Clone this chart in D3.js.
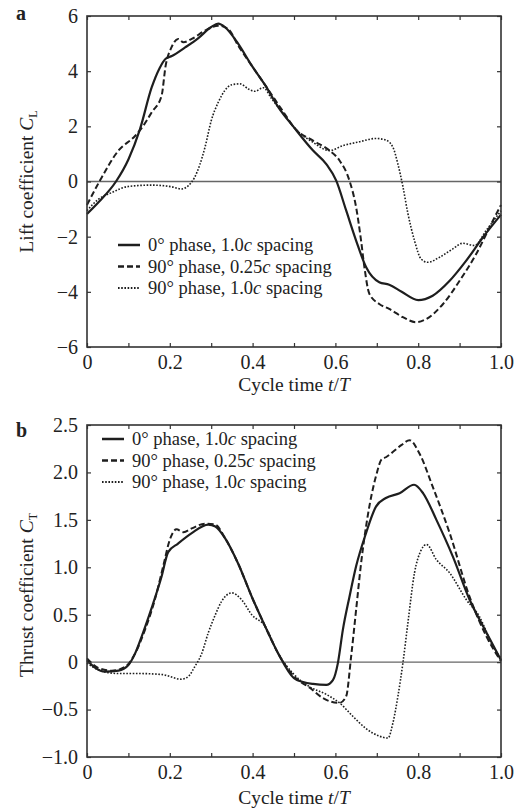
<!DOCTYPE html>
<html>
<head>
<meta charset="utf-8">
<script src="https://cdn.jsdelivr.net/npm/d3@7"></script>
<style>
  body { margin: 0; background: #fff; }
  text { font-family: "Liberation Serif", "Times New Roman", serif; fill: #222; }
</style>
</head>
<body>
<svg width="528" height="812"></svg>
<script>
// lift coefficient, [t/T, C_L]
var liftPhase0 = [[0,-1.18],[0.03,-0.72],[0.07,0],[0.1,0.8],[0.128,1.9],[0.156,3.4],[0.175,4.1],[0.19,4.45],[0.205,4.55],[0.237,4.86],[0.269,5.2],[0.3,5.6],[0.317,5.72],[0.333,5.6],[0.365,5.0],[0.398,4.2],[0.43,3.5],[0.462,2.7],[0.5,1.96],[0.546,1.12],[0.578,0.63],[0.602,0.03],[0.626,-1.05],[0.65,-2.14],[0.674,-3.1],[0.706,-3.65],[0.73,-3.74],[0.76,-4.0],[0.8,-4.3],[0.835,-4.14],[0.876,-3.6],[0.916,-2.87],[0.956,-2.03],[1.0,-1.2]];
var liftPhase90Close = [[0,-0.85],[0.03,0],[0.076,1.12],[0.116,1.65],[0.135,2.0],[0.156,2.5],[0.18,3.1],[0.19,4.2],[0.204,4.86],[0.22,5.17],[0.233,5.05],[0.253,5.17],[0.285,5.47],[0.317,5.65],[0.341,5.53],[0.365,4.93],[0.398,4.2],[0.43,3.5],[0.478,2.44],[0.5,1.96],[0.546,1.48],[0.586,1.12],[0.61,0.76],[0.634,0.03],[0.65,-0.93],[0.662,-2.14],[0.67,-3.1],[0.682,-4.07],[0.706,-4.44],[0.73,-4.62],[0.763,-4.92],[0.795,-5.1],[0.82,-4.98],[0.86,-4.44],[0.9,-3.6],[0.94,-2.63],[0.98,-1.43],[1.0,-0.85]];
var liftPhase90Far = [[0,-1.06],[0.027,-0.65],[0.06,-0.4],[0.1,-0.18],[0.156,-0.13],[0.204,-0.19],[0.228,-0.27],[0.245,-0.15],[0.26,0.15],[0.285,1.24],[0.3,2.2],[0.317,2.87],[0.333,3.3],[0.35,3.51],[0.37,3.54],[0.39,3.35],[0.405,3.27],[0.426,3.4],[0.446,3.0],[0.478,2.39],[0.5,1.96],[0.546,1.42],[0.586,1.12],[0.618,1.3],[0.658,1.44],[0.698,1.56],[0.722,1.5],[0.739,1.24],[0.751,0.63],[0.763,-0.18],[0.775,-1.15],[0.791,-2.14],[0.807,-2.81],[0.823,-2.93],[0.851,-2.75],[0.883,-2.45],[0.907,-2.24],[0.936,-2.32],[0.964,-1.78],[1.0,-1.06]];

// thrust coefficient, [t/T, C_T]
var thrustPhase0 = [[0,0.02],[0.02,-0.06],[0.043,-0.1],[0.076,-0.09],[0.1,-0.03],[0.116,0.09],[0.132,0.27],[0.156,0.57],[0.18,0.9],[0.196,1.16],[0.22,1.25],[0.253,1.36],[0.293,1.45],[0.31,1.43],[0.333,1.31],[0.365,1.04],[0.398,0.69],[0.43,0.38],[0.462,0.09],[0.5,-0.17],[0.522,-0.21],[0.546,-0.23],[0.578,-0.24],[0.594,-0.19],[0.606,-0.01],[0.618,0.34],[0.634,0.69],[0.65,1.01],[0.674,1.36],[0.698,1.64],[0.722,1.73],[0.755,1.78],[0.79,1.87],[0.812,1.78],[0.844,1.5],[0.884,1.11],[0.924,0.66],[0.965,0.31],[1.0,0.02]];
var thrustPhase90Close = [[0,0.04],[0.027,-0.06],[0.06,-0.09],[0.092,-0.05],[0.116,0.09],[0.14,0.34],[0.164,0.66],[0.184,1.01],[0.2,1.29],[0.216,1.4],[0.233,1.37],[0.253,1.41],[0.285,1.46],[0.31,1.45],[0.333,1.31],[0.365,1.04],[0.398,0.69],[0.43,0.38],[0.462,0.09],[0.5,-0.15],[0.538,-0.27],[0.57,-0.38],[0.61,-0.43],[0.626,-0.36],[0.638,0.06],[0.65,0.55],[0.662,1.04],[0.678,1.54],[0.698,1.96],[0.712,2.14],[0.722,2.16],[0.74,2.22],[0.76,2.29],[0.779,2.34],[0.803,2.2],[0.835,1.85],[0.876,1.36],[0.924,0.69],[0.965,0.27],[1.0,0.01]];
var thrustPhase90Far = [[0,-0.01],[0.027,-0.08],[0.076,-0.12],[0.124,-0.12],[0.18,-0.13],[0.228,-0.18],[0.245,-0.15],[0.26,-0.05],[0.277,0.09],[0.293,0.31],[0.31,0.5],[0.325,0.64],[0.35,0.73],[0.373,0.66],[0.398,0.5],[0.43,0.38],[0.462,0.09],[0.5,-0.13],[0.538,-0.26],[0.578,-0.34],[0.61,-0.43],[0.642,-0.57],[0.674,-0.7],[0.706,-0.78],[0.727,-0.8],[0.739,-0.64],[0.751,-0.36],[0.763,-0.01],[0.775,0.41],[0.791,0.94],[0.807,1.18],[0.82,1.24],[0.844,1.08],[0.876,0.94],[0.916,0.66],[0.948,0.48],[0.98,0.17],[1.0,0.04]];

var seriesNames = [["0° phase, 1.0", "c", " spacing"], ["90° phase, 0.25", "c", " spacing"], ["90° phase, 1.0", "c", " spacing"]];
var xTicks = [0, 0.1, 0.2, 0.3, 0.4, 0.5, 0.6, 0.7, 0.8, 0.9, 1.0];
var xLabels = {0: "0", 0.2: "0.2", 0.4: "0.4", 0.6: "0.6", 0.8: "0.8", 1: "1.0"};
var liftTicks = [-6, -4, -2, 0, 2, 4, 6];
var liftLabels = ["−6", "−4", "−2", "0", "2", "4", "6"];
var thrustTicks = [-1, -0.5, 0, 0.5, 1, 1.5, 2, 2.5];
var thrustLabels = ["−1.0", "−0.5", "0", "0.5", "1.0", "1.5", "2.0", "2.5"];

var svg = d3.select("svg");
var styles = [
    {w: 2.2, dash: null},
    {w: 2.0, dash: "6,3"},
    {w: 1.6, dash: "1.6,1.6"}
];

function drawPanel(opt) {
    var width = 414, height = opt.height;
    var g = svg.append("g").attr("transform", "translate(87," + opt.top + ")");
    var x = d3.scaleLinear().domain([0, 1]).range([0, width]);
    var y = d3.scaleLinear().domain(opt.domain).range([height, 0]);

    // zero line
    g.append("line")
        .attr("x1", 0).attr("x2", width)
        .attr("y1", y(0)).attr("y2", y(0))
        .attr("stroke", "#666").attr("stroke-width", 1.4);

    var line = d3.line()
        .x(function (d) { return x(d[0]); })
        .y(function (d) { return y(d[1]); })
        .curve(d3.curveMonotoneX);

    opt.series.forEach(function (s, i) {
        g.append("path")
            .datum(s)
            .attr("fill", "none")
            .attr("stroke", "#1e1e1e")
            .attr("stroke-width", styles[i].w)
            .attr("stroke-dasharray", styles[i].dash)
            .attr("d", line);
    });

    // axes, ticks point inward
    g.append("g").attr("transform", "translate(0," + height + ")")
        .call(d3.axisBottom(x).tickValues(xTicks).tickSizeInner(-4).tickSizeOuter(0).tickPadding(8)
            .tickFormat(function (d) { return xLabels[Math.round(d * 10) / 10] || ""; }));
    g.append("g")
        .call(d3.axisTop(x).tickValues(xTicks).tickSizeInner(-4).tickSizeOuter(0).tickFormat(""));
    g.append("g")
        .call(d3.axisLeft(y).tickValues(opt.ticks).tickSizeInner(-4).tickSizeOuter(0).tickPadding(9)
            .tickFormat(function (d, i) { return opt.labels[i]; }));
    g.append("g").attr("transform", "translate(" + width + ",0)")
        .call(d3.axisRight(y).tickValues(opt.ticks).tickSizeInner(-4).tickSizeOuter(0).tickFormat(""));

    g.selectAll(".domain").remove();
    g.selectAll(".tick line").attr("stroke", "#333").attr("stroke-width", 1.2);
    g.selectAll(".tick text")
        .style("font-family", '"Liberation Serif", serif')
        .style("font-size", "20px")
        .attr("fill", "#222");

    g.append("rect")
        .attr("width", width).attr("height", height)
        .attr("fill", "none").attr("stroke", "#333").attr("stroke-width", 1.6);

    // panel letter
    svg.append("text")
        .attr("x", 16).attr("y", opt.top + opt.letterDy)
        .style("font-size", "20px").style("font-weight", "bold")
        .text(opt.letter);

    // x title
    var xt = g.append("text")
        .attr("x", width / 2).attr("y", height + opt.xTitleDy)
        .attr("text-anchor", "middle")
        .style("font-size", "19.5px");
    xt.append("tspan").text("Cycle time ");
    xt.append("tspan").style("font-style", "italic").text("t");
    xt.append("tspan").text("/");
    xt.append("tspan").style("font-style", "italic").text("T");

    // y title
    var yt = g.append("text")
        .attr("transform", "translate(-54," + (height / 2 + opt.yTitleShift) + ") rotate(-90)")
        .attr("text-anchor", "middle")
        .style("font-size", "19.5px");
    yt.append("tspan").text(opt.yTitle + " ");
    yt.append("tspan").style("font-style", "italic").text("C");
    yt.append("tspan").attr("dy", 4).style("font-size", "12px").text(opt.sub);

    // legend
    var lg = svg.append("g").attr("transform", "translate(" + opt.legend[0] + "," + opt.legend[1] + ")");
    seriesNames.forEach(function (n, i) {
        var row = lg.append("g").attr("transform", "translate(0," + i * 21.5 + ")");
        row.append("line")
            .attr("x1", 0).attr("x2", 22).attr("y1", 0).attr("y2", 0)
            .attr("stroke", "#1e1e1e")
            .attr("stroke-width", styles[i].w + 0.3)
            .attr("stroke-dasharray", styles[i].dash);
        var t = row.append("text").attr("x", 30).attr("y", 6).style("font-size", "18.5px");
        t.append("tspan").text(n[0]);
        t.append("tspan").style("font-style", "italic").text(n[1]);
        t.append("tspan").text(n[2]);
    });
}

drawPanel({
    top: 16, height: 331, domain: [-6, 6],
    ticks: liftTicks, labels: liftLabels,
    series: [liftPhase0, liftPhase90Close, liftPhase90Far],
    letter: "a", letterDy: 4, xTitleDy: 44,
    yTitle: "Lift coefficient", sub: "L", yTitleShift: 0,
    legend: [118, 245]
});

drawPanel({
    top: 425, height: 332, domain: [-1, 2.5],
    ticks: thrustTicks, labels: thrustLabels,
    series: [thrustPhase0, thrustPhase90Close, thrustPhase90Far],
    letter: "b", letterDy: 12, xTitleDy: 47,
    yTitle: "Thrust coefficient", sub: "T", yTitleShift: 4,
    legend: [102, 439]
});
</script>
</body>
</html>
